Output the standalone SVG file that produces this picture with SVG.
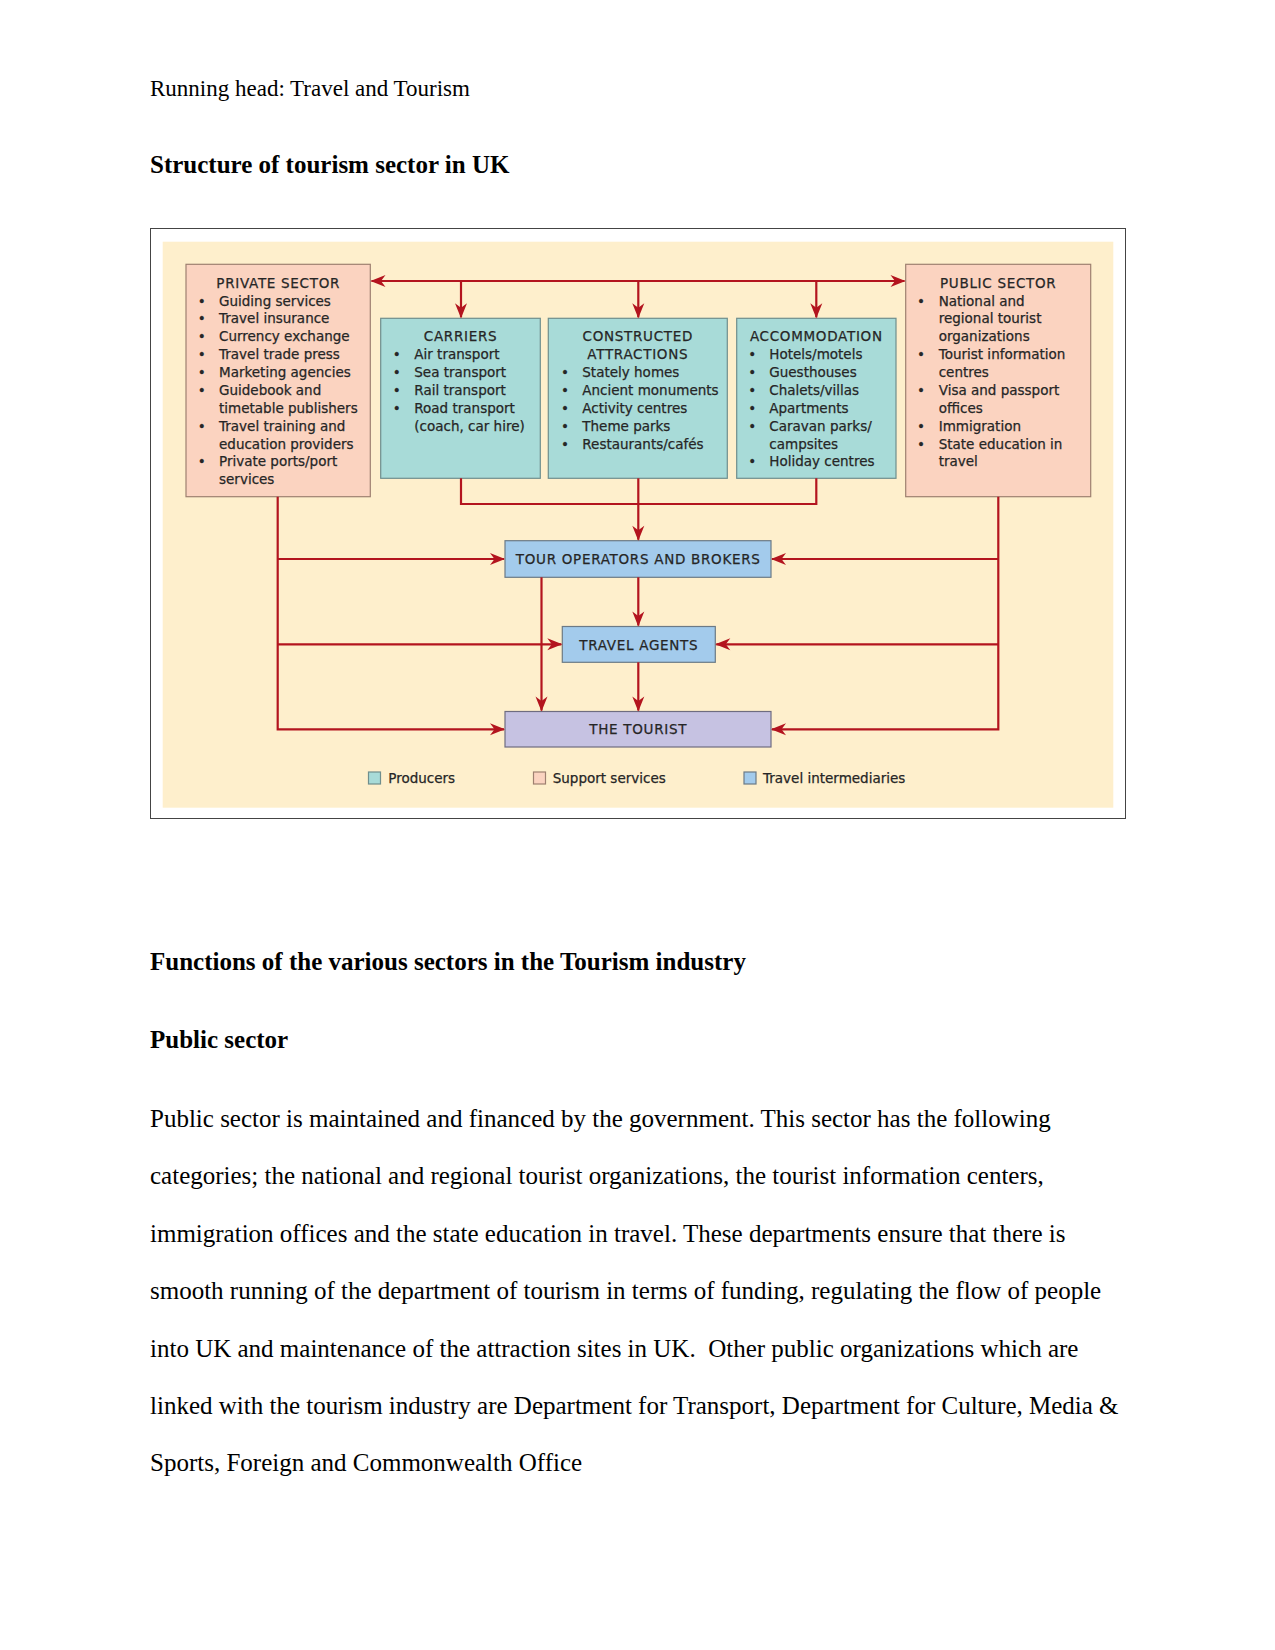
<svg xmlns="http://www.w3.org/2000/svg" width="1275" height="1650" viewBox="0 0 1275 1650">
<style>
.page{font-family:"Liberation Serif","Times New Roman",serif;font-size:25px;fill:#000}
.rh{font-size:23px}
.b{font-weight:bold}
.t{font-family:"DejaVu Sans","Liberation Sans",sans-serif;font-size:13.5px;fill:#262626;stroke:#262626;stroke-width:0.25}
.c{text-anchor:middle}
.k{letter-spacing:0.7px}
.sal{fill:#FBD3C0;stroke:#9E8070;stroke-width:1.2}
.tea{fill:#A8DBD8;stroke:#6F8E8D;stroke-width:1.2}
.blu{fill:#A3CBEC;stroke:#6C7A86;stroke-width:1.2}
.lav{fill:#C6C2E2;stroke:#6E6C80;stroke-width:1.2}
.con path{fill:none;stroke:#B3141E;stroke-width:2.2}
.ar{marker-end:url(#ah)}
</style>
<defs>
<marker id="ah" viewBox="-16 -7 18 14" refX="0" refY="0" markerWidth="18" markerHeight="14" markerUnits="userSpaceOnUse" orient="auto-start-reverse">
<path d="M1,0 L-14,-6 L-9.5,0 L-14,6 Z" fill="#B3141E"/>
</marker>
</defs>
<rect width="1275" height="1650" fill="#fff"/>
<text class="page rh" x="150" y="95.5">Running head: Travel and Tourism</text>
<text class="page b" x="150" y="173.3">Structure of tourism sector in UK</text>

<rect x="150.5" y="228.5" width="975" height="590" fill="#fff" stroke="#444" stroke-width="1"/>
<rect x="162.7" y="241.7" width="950.6" height="566" fill="#FEEFCC"/>

<g id="private-sector">
<rect class="sal" x="186" y="264.3" width="184.3" height="232.4"/>
<text class="t c k" x="278.2" y="287.7">PRIVATE SECTOR</text>
<text class="t c" x="201.7" y="305.6">•</text><text class="t" x="219" y="305.6">Guiding services</text>
<text class="t c" x="201.7" y="323.4">•</text><text class="t" x="219" y="323.4">Travel insurance</text>
<text class="t c" x="201.7" y="341.3">•</text><text class="t" x="219" y="341.3">Currency exchange</text>
<text class="t c" x="201.7" y="359.2">•</text><text class="t" x="219" y="359.2">Travel trade press</text>
<text class="t c" x="201.7" y="377.1">•</text><text class="t" x="219" y="377.1">Marketing agencies</text>
<text class="t c" x="201.7" y="394.9">•</text><text class="t" x="219" y="394.9">Guidebook and</text>
<text class="t" x="219" y="412.8">timetable publishers</text>
<text class="t c" x="201.7" y="430.7">•</text><text class="t" x="219" y="430.7">Travel training and</text>
<text class="t" x="219" y="448.5">education providers</text>
<text class="t c" x="201.7" y="466.4">•</text><text class="t" x="219" y="466.4">Private ports/port</text>
<text class="t" x="219" y="484.3">services</text>
</g>

<g id="carriers">
<rect class="tea" x="380.7" y="318.3" width="159.6" height="160"/>
<text class="t c k" x="460.5" y="341.3">CARRIERS</text>
<text class="t c" x="396.7" y="359.2">•</text><text class="t" x="414.3" y="359.2">Air transport</text>
<text class="t c" x="396.7" y="377.1">•</text><text class="t" x="414.3" y="377.1">Sea transport</text>
<text class="t c" x="396.7" y="394.9">•</text><text class="t" x="414.3" y="394.9">Rail transport</text>
<text class="t c" x="396.7" y="412.8">•</text><text class="t" x="414.3" y="412.8">Road transport</text>
<text class="t" x="414.3" y="430.7">(coach, car hire)</text>
</g>

<g id="constructed-attractions">
<rect class="tea" x="548.3" y="318.3" width="179" height="160"/>
<text class="t c k" x="637.8" y="341.3">CONSTRUCTED</text>
<text class="t c k" x="637.8" y="359.2">ATTRACTIONS</text>
<text class="t c" x="565" y="377.1">•</text><text class="t" x="582.3" y="377.1">Stately homes</text>
<text class="t c" x="565" y="394.9">•</text><text class="t" x="582.3" y="394.9">Ancient monuments</text>
<text class="t c" x="565" y="412.8">•</text><text class="t" x="582.3" y="412.8">Activity centres</text>
<text class="t c" x="565" y="430.7">•</text><text class="t" x="582.3" y="430.7">Theme parks</text>
<text class="t c" x="565" y="448.5">•</text><text class="t" x="582.3" y="448.5">Restaurants/cafés</text>
</g>

<g id="accommodation">
<rect class="tea" x="736.7" y="318.3" width="159.3" height="160"/>
<text class="t c k" x="816.3" y="341.3">ACCOMMODATION</text>
<text class="t c" x="752.3" y="359.2">•</text><text class="t" x="769.3" y="359.2">Hotels/motels</text>
<text class="t c" x="752.3" y="377.1">•</text><text class="t" x="769.3" y="377.1">Guesthouses</text>
<text class="t c" x="752.3" y="394.9">•</text><text class="t" x="769.3" y="394.9">Chalets/villas</text>
<text class="t c" x="752.3" y="412.8">•</text><text class="t" x="769.3" y="412.8">Apartments</text>
<text class="t c" x="752.3" y="430.7">•</text><text class="t" x="769.3" y="430.7">Caravan parks/</text>
<text class="t" x="769.3" y="448.5">campsites</text>
<text class="t c" x="752.3" y="466.4">•</text><text class="t" x="769.3" y="466.4">Holiday centres</text>
</g>

<g id="public-sector">
<rect class="sal" x="905.7" y="264.3" width="185" height="232.4"/>
<text class="t c k" x="998.2" y="287.7">PUBLIC SECTOR</text>
<text class="t c" x="921" y="305.6">•</text><text class="t" x="938.7" y="305.6">National and</text>
<text class="t" x="938.7" y="323.4">regional tourist</text>
<text class="t" x="938.7" y="341.3">organizations</text>
<text class="t c" x="921" y="359.2">•</text><text class="t" x="938.7" y="359.2">Tourist information</text>
<text class="t" x="938.7" y="377.1">centres</text>
<text class="t c" x="921" y="394.9">•</text><text class="t" x="938.7" y="394.9">Visa and passport</text>
<text class="t" x="938.7" y="412.8">offices</text>
<text class="t c" x="921" y="430.7">•</text><text class="t" x="938.7" y="430.7">Immigration</text>
<text class="t c" x="921" y="448.5">•</text><text class="t" x="938.7" y="448.5">State education in</text>
<text class="t" x="938.7" y="466.4">travel</text>
</g>

<g id="tour-operators">
<rect class="blu" x="505" y="540.7" width="266" height="36.6"/>
<text class="t c k" x="638.2" y="564.3">TOUR OPERATORS AND BROKERS</text>
</g>
<g id="travel-agents">
<rect class="blu" x="562.3" y="626.5" width="153" height="35.8"/>
<text class="t c k" x="638.8" y="650">TRAVEL AGENTS</text>
</g>
<g id="the-tourist">
<rect class="lav" x="505" y="711.5" width="266" height="35.5"/>
<text class="t c k" x="638.2" y="734.3">THE TOURIST</text>
</g>

<g id="connectors" class="con">
<path d="M371.5,281 H904.5" marker-start="url(#ah)" marker-end="url(#ah)"/>
<path class="ar" d="M461,281 V317.3"/>
<path class="ar" d="M638.3,281 V317.3"/>
<path class="ar" d="M816.3,281 V317.3"/>
<path d="M461,478.3 V504 H816.3 V478.3"/>
<path class="ar" d="M638.3,478.3 V539.7"/>
<path class="ar" d="M277.7,496.7 V729.3 H504"/>
<path class="ar" d="M277.7,559 H504"/>
<path class="ar" d="M277.7,644.3 H561.3"/>
<path class="ar" d="M998.3,496.7 V729.3 H772"/>
<path class="ar" d="M998.3,559 H772"/>
<path class="ar" d="M998.3,644.3 H716.3"/>
<path class="ar" d="M638.3,577.3 V625.5"/>
<path class="ar" d="M638.3,662.3 V710.5"/>
<path class="ar" d="M541.5,577.3 V710.5"/>
</g>

<g id="legend">
<rect class="tea" x="368.5" y="772" width="12" height="12"/>
<text class="t" x="388.3" y="783.3">Producers</text>
<rect class="sal" x="533.5" y="772" width="12" height="12"/>
<text class="t" x="552.7" y="783.3">Support services</text>
<rect class="blu" x="744" y="772" width="12" height="12"/>
<text class="t" x="763" y="783.3">Travel intermediaries</text>
</g>

<text class="page b" x="150" y="970">Functions of the various sectors in the Tourism industry</text>
<text class="page b" x="150" y="1048.3">Public sector</text>
<text class="page" x="150" y="1126.7">Public sector is maintained and financed by the government. This sector has the following</text>
<text class="page" x="150" y="1184.1">categories; the national and regional tourist organizations, the tourist information centers,</text>
<text class="page" x="150" y="1241.5">immigration offices and the state education in travel. These departments ensure that there is</text>
<text class="page" x="150" y="1299">smooth running of the department of tourism in terms of funding, regulating the flow of people</text>
<text class="page" x="150" y="1356.5" style="white-space:pre">into UK and maintenance of the attraction sites in UK.  Other public organizations which are</text>
<text class="page" x="150" y="1414">linked with the tourism industry are Department for Transport, Department for Culture, Media &amp;</text>
<text class="page" x="150" y="1471">Sports, Foreign and Commonwealth Office</text>
</svg>
